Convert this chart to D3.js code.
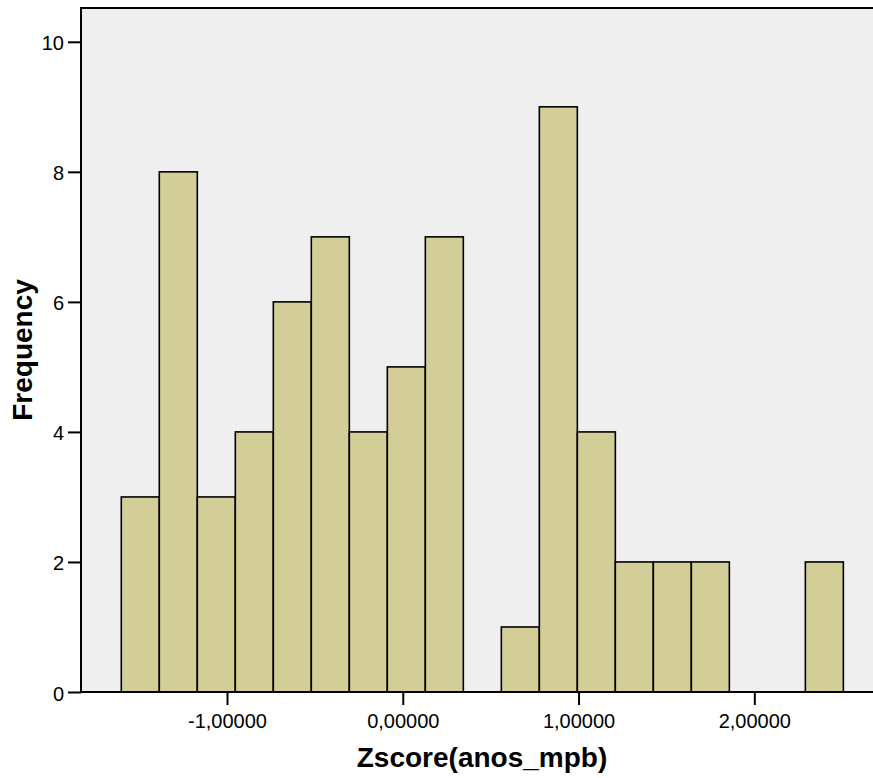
<!DOCTYPE html>
<html>
<head>
<meta charset="utf-8">
<title>Histogram Zscore(anos_mpb)</title>
<script src="https://cdn.jsdelivr.net/npm/d3@7"></script>
<style>
  body { margin: 0; background: #fff; }
  text { font-family: "Liberation Sans", Arial, sans-serif; fill: #000; }
</style>
</head>
<body>
<script>
  // data
  const binStart = -1.6013;
  const binWidth = 0.2162;
  const counts = [3, 8, 3, 4, 6, 7, 4, 5, 7, 0, 1, 9, 4, 2, 2, 2, 0, 0, 2];
  const xTicks = [-1, 0, 1, 2];
  const yTicks = [0, 2, 4, 6, 8, 10];

  const width = 873, height = 778;
  const plotLeft = 81, plotTop = 8, plotBottom = 692, plotRight = 883;

  const svg = d3.select('body').append('svg')
    .attr('width', width)
    .attr('height', height);

  const x = d3.scaleLinear().domain([-1.8306, 2.732]).range([plotLeft, plotRight]);
  const y = d3.scaleLinear().domain([0, 10.52]).range([plotBottom, plotTop]);

  // plot background
  svg.append('rect')
    .attr('x', plotLeft).attr('y', plotTop)
    .attr('width', plotRight - plotLeft).attr('height', plotBottom - plotTop)
    .attr('fill', '#efefef');

  const bins = counts.map((c, i) => ({
    x0: binStart + i * binWidth,
    x1: binStart + (i + 1) * binWidth,
    n: c
  })).filter(d => d.n > 0);

  svg.selectAll('rect.bar').data(bins).enter()
    .append('rect')
    .attr('class', 'bar')
    .attr('x', d => x(d.x0))
    .attr('y', d => y(d.n))
    .attr('width', d => x(d.x1) - x(d.x0))
    .attr('height', d => y(0) - y(d.n))
    .attr('fill', '#d3ce97')
    .attr('stroke', '#000')
    .attr('stroke-width', 1.6);

  // top border
  svg.append('line')
    .attr('x1', plotLeft - 1).attr('x2', plotRight)
    .attr('y1', plotTop).attr('y2', plotTop)
    .attr('stroke', '#000').attr('stroke-width', 2);

  const fmt = v => d3.format('.5f')(v).replace('.', ',').replace('−', '-');

  const xAxis = d3.axisBottom(x).tickValues(xTicks).tickSize(13).tickPadding(9).tickFormat(fmt);
  const gx = svg.append('g')
    .attr('transform', `translate(0, ${plotBottom})`)
    .call(xAxis);
  gx.select('.domain').attr('d', `M${plotLeft - 1},0H${plotRight}`).attr('stroke-width', 2);
  gx.selectAll('.tick line').attr('stroke-width', 2);
  gx.selectAll('.tick text').style('font-size', '20px');

  const yAxis = d3.axisLeft(y).tickValues(yTicks).tickSize(13).tickPadding(4).tickFormat(d3.format('d'));
  const gy = svg.append('g')
    .attr('transform', `translate(${plotLeft}, 0)`)
    .call(yAxis);
  gy.select('.domain').attr('d', `M0,${plotBottom + 1}V${plotTop - 1}`).attr('stroke-width', 2);
  gy.selectAll('.tick line').attr('stroke-width', 2);
  gy.selectAll('.tick text').style('font-size', '20px').attr('dy', '0.4em');

  svg.append('text')
    .attr('x', (plotLeft + plotRight) / 2).attr('y', 767)
    .attr('text-anchor', 'middle')
    .style('font-size', '28px').style('font-weight', 'bold')
    .text('Zscore(anos_mpb)');

  svg.append('text')
    .attr('transform', `translate(32, ${(plotTop + plotBottom) / 2}) rotate(-90)`)
    .attr('text-anchor', 'middle')
    .style('font-size', '28px').style('font-weight', 'bold')
    .text('Frequency');
</script>
</body>
</html>
